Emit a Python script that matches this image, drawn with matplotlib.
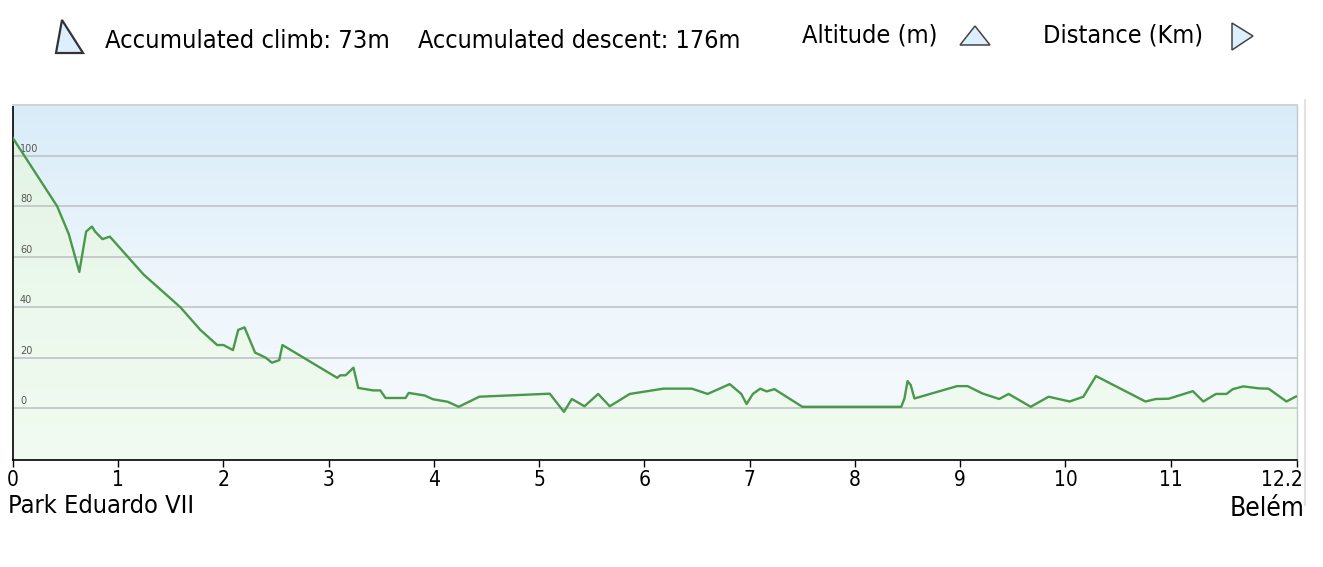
import numpy as np
import matplotlib
matplotlib.use("Agg")
import matplotlib.pyplot as plt
from matplotlib import font_manager as fm
from matplotlib.colors import LinearSegmentedColormap
from matplotlib.patches import Polygon
from matplotlib.lines import Line2D
from matplotlib.transforms import ScaledTranslation

# profile: distance (km) and altitude (m)
km = [0, 0.42, 0.53, 0.63, 0.695, 0.75, 0.78, 0.85, 0.92, 1.24, 1.59, 1.78, 1.94, 2.0,
      2.09, 2.14, 2.2, 2.25, 2.3, 2.4, 2.46, 2.53, 2.56, 3.08, 3.11, 3.16, 3.235, 3.28,
      3.42, 3.49, 3.54, 3.73, 3.76, 3.91, 3.99, 4.13, 4.235, 4.43, 5.1, 5.235, 5.31, 5.43,
      5.56, 5.67, 5.86, 6.18, 6.45, 6.6, 6.81, 6.92, 6.97, 7.03, 7.1, 7.16, 7.235, 7.5,
      8.44, 8.47, 8.5, 8.53, 8.565, 8.97, 9.07, 9.21, 9.37, 9.46, 9.67, 9.84, 10.04, 10.17,
      10.29, 10.76, 10.86, 10.98, 11.21, 11.31, 11.43, 11.53, 11.59, 11.69, 11.84, 11.93,
      12.1, 12.19, 12.2]
alt = [107, 80, 69, 54, 70, 72, 70, 67, 68, 53, 40, 31, 25, 25,
       23, 31, 32, 27, 22, 20, 18, 19, 25, 12, 13, 13, 16, 8,
       7, 7, 4, 4, 6, 5, 3.5, 2.5, 0.5, 4.5, 5.7, -1.5, 3.6, 0.7,
       5.6, 0.7, 5.6, 7.7, 7.7, 5.6, 9.5, 5.6, 1.6, 5.6, 7.7, 6.6, 7.5, 0.5,
       0.5, 3.8, 10.7, 9.1, 3.8, 8.7, 8.7, 5.8, 3.6, 5.6, 0.5, 4.5, 2.6, 4.5,
       12.7, 2.6, 3.6, 3.7, 6.7, 2.6, 5.6, 5.6, 7.5, 8.6, 7.8, 7.7,
       2.6, 4.6, 4.6]

x_ticks = [0, 1, 2, 3, 4, 5, 6, 7, 8, 9, 10, 11, 12.2]
x_labels = ["0", "1", "2", "3", "4", "5", "6", "7", "8", "9", "10", "11", "12.2"]
y_grid = [0, 20, 40, 60, 80, 100]

start_name = "Park Eduardo VII"
end_name = "Belém"
climb_text = "Accumulated climb: 73m"
descent_text = "Accumulated descent: 176m"
alt_label = "Altitude (m)"
dist_label = "Distance (Km)"

# pick a narrow face if the system has one
fonts = fm.fontManager.ttflist
names = {f.name for f in fonts}
stretch = "normal"
if "Liberation Sans Narrow" in names:
    font = "Liberation Sans Narrow"
elif any(f.name == "DejaVu Sans" and f.stretch == "condensed" for f in fonts):
    font, stretch = "DejaVu Sans", "condensed"
else:
    font = "Lato" if "Lato" in names else "DejaVu Sans"
plt.rcParams["font.family"] = [font, "DejaVu Sans"]
plt.rcParams["font.stretch"] = stretch

W, H = 1323, 567
fig = plt.figure(figsize=(W / 100, H / 100), dpi=100)
ax = fig.add_axes([13 / W, 1 - 460 / H, (1297 - 13) / W, (460 - 105) / H])

xmin, xmax = 0, 12.2
ymin, ymax = -20.6, 120.2
ax.set_xlim(xmin, xmax)
ax.set_ylim(ymin, ymax)

# background: blue at the top fading to white
sky = LinearSegmentedColormap.from_list("sky", ["#f6fafd", "#eef6fc", "#d8ecf8"])
grad = np.linspace(0, 1, 256).reshape(-1, 1)
ax.imshow(grad, extent=[xmin, xmax, ymin, ymax], origin="lower", aspect="auto",
          cmap=sky, zorder=0)

# green fill under the profile
green = LinearSegmentedColormap.from_list("grn", ["#f1fbf1", "#ebf8ec", "#e0f2e3"])
im = ax.imshow(grad, extent=[xmin, xmax, ymin, ymax], origin="lower", aspect="auto",
               cmap=green, zorder=1)
pts = np.column_stack([[km[0]] + km + [km[-1]], [ymin] + alt + [ymin]])
poly = Polygon(pts, closed=True, facecolor="none", edgecolor="none")
ax.add_patch(poly)
im.set_clip_path(poly)

for v in y_grid:
    ax.axhline(v, color="#bfc4c8", lw=1.2, zorder=2)
    ax.annotate(str(v), (0.067, v), xytext=(0, 1.5), textcoords="offset points",
                fontsize=7, color="#555555", va="bottom", ha="left",
                family="DejaVu Sans", stretch="normal", zorder=3)

ax.plot(km, alt, color="#4a984a", lw=1.7, zorder=4)

ax.set_yticks([])
ax.set_xticks(x_ticks)
ax.set_xticklabels(x_labels, fontsize=15)
ax.tick_params(axis="x", length=5, width=1, color="black", pad=2)
last = ax.get_xticklabels()[-1]
last.set_horizontalalignment("right")
last.set_transform(last.get_transform() + ScaledTranslation(6 / 100, 0, fig.dpi_scale_trans))

for side in ("left", "bottom"):
    ax.spines[side].set_color("black")
    ax.spines[side].set_linewidth(1.2)
ax.spines["top"].set_color("#cfd3d6")
ax.spines["top"].set_linewidth(1.5)
ax.spines["right"].set_color("#c4c8cb")
ax.spines["right"].set_linewidth(1)

# outer light frame line on the right
fig.add_artist(Line2D([1305 / W, 1305 / W], [1 - 100 / H, 1 - 505 / H],
                      color="#e2e2e2", lw=1.5, transform=fig.transFigure))

renderer = fig.canvas.get_renderer()


def put(x, y, s, width, size, ha="left"):
    # place a text and shrink it to the width it has in the reference
    t = fig.text(x / W, 1 - y / H, s, fontsize=size, va="center", ha=ha)
    w = t.get_window_extent(renderer=renderer).width
    if w > width:
        t.set_fontsize(size * width / w)
    return t


def fig_poly(xy, **kw):
    xy = [(x / W, 1 - y / H) for x, y in xy]
    fig.add_artist(Polygon(xy, closed=True, transform=fig.transFigure, **kw))


put(8, 506, start_name, 187, 22)
put(1304, 509, end_name, 75, 22, ha="right")

fig_poly([(62, 20), (56, 53), (83, 53)], facecolor="#dcefff", edgecolor="#333333", lw=1.6)
put(105, 41, climb_text, 285, 22)
put(418, 41, descent_text, 323, 22)
put(802, 35, alt_label, 136, 20)
fig_poly([(975, 26), (960, 45), (990, 45)], facecolor="#dcefff", edgecolor="#444444", lw=1.1)
put(1043, 35, dist_label, 161, 20)
fig_poly([(1232, 23), (1232, 50), (1253, 36)], facecolor="#dcefff", edgecolor="#444444", lw=1.1)

fig.savefig("out.png", dpi=100)
